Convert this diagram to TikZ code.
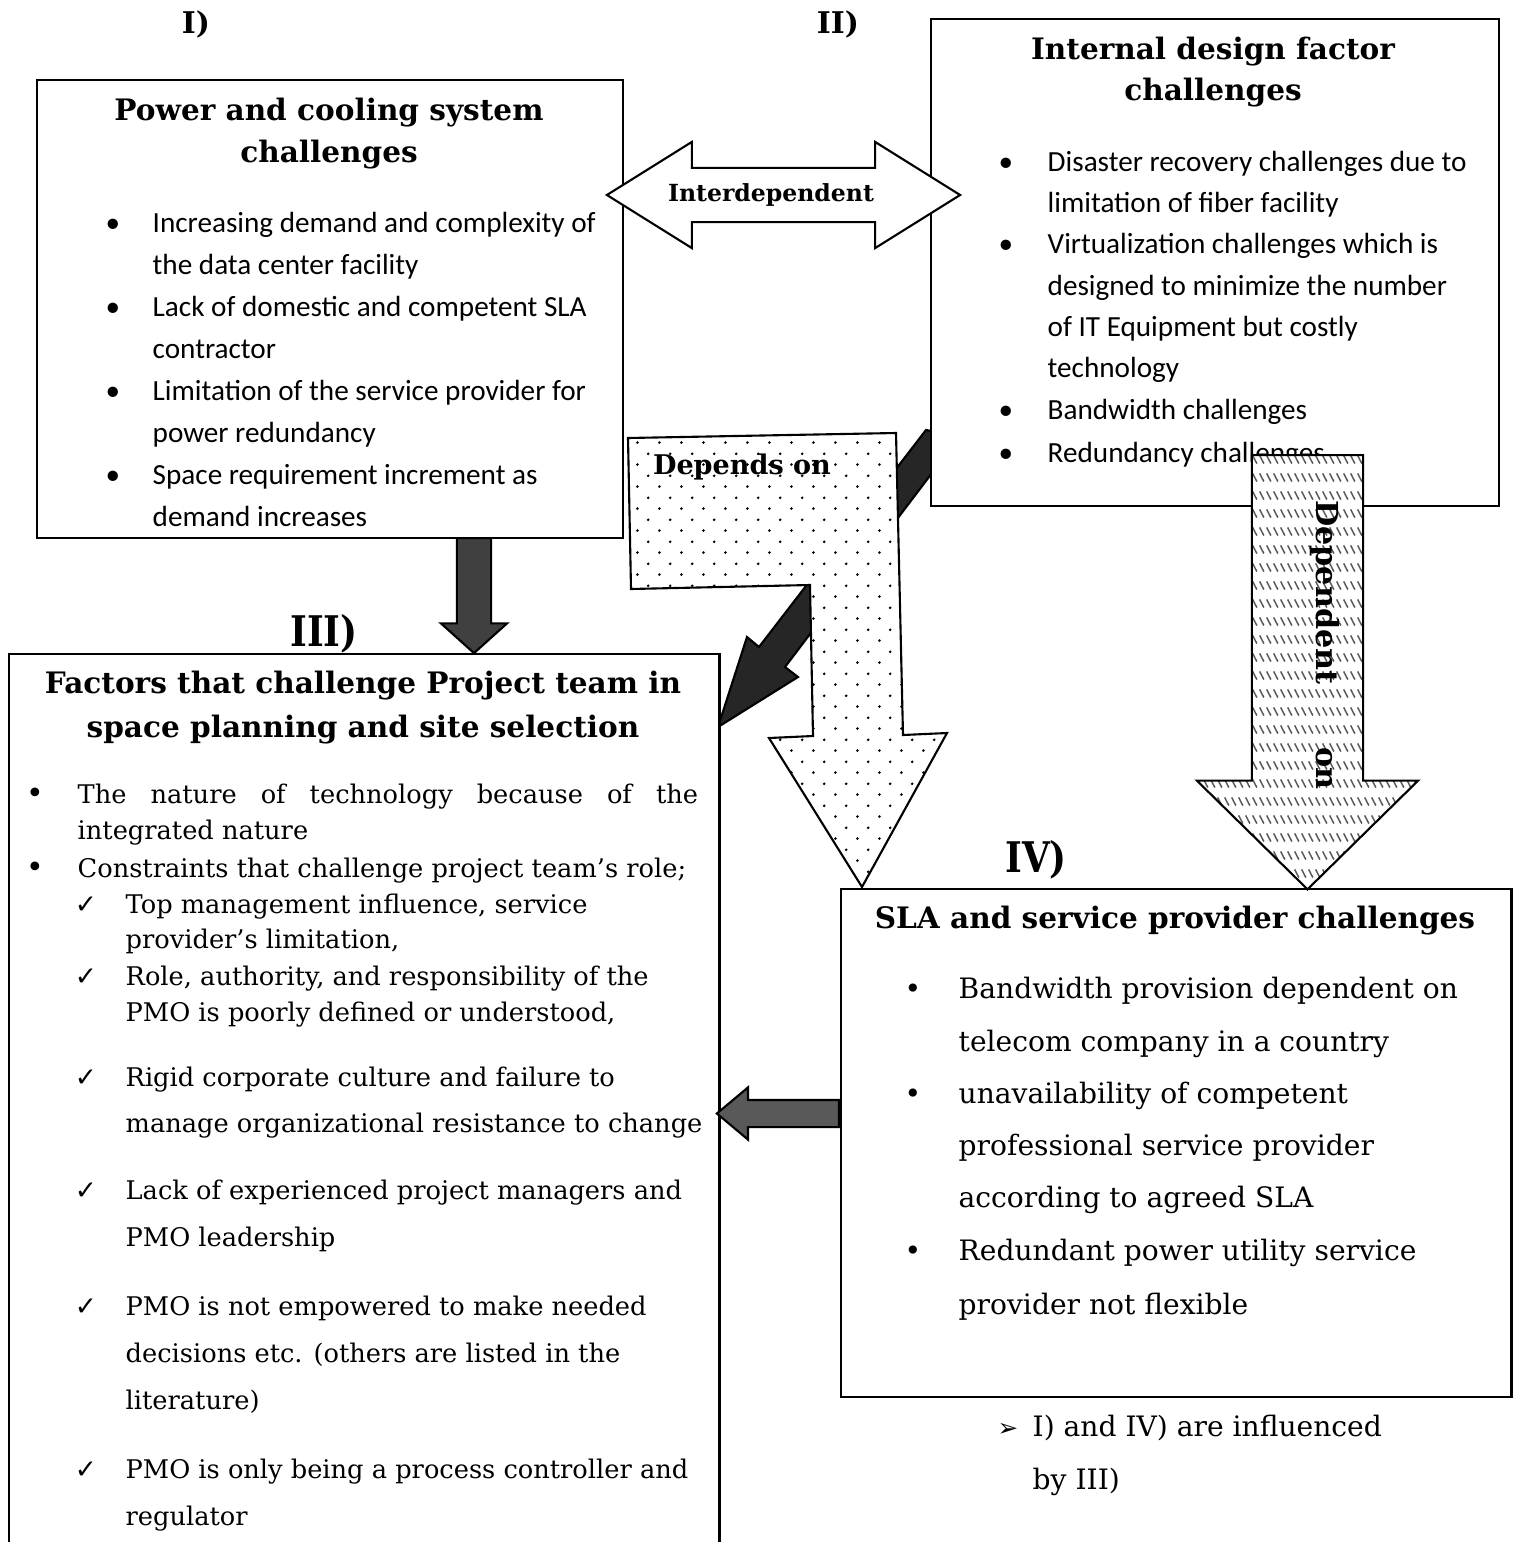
\documentclass[tikz,border=0pt]{standalone}
\usepackage{fontspec}
\setmainfont{DejaVu Serif}
\newfontfamily\calfont{Carlito}
\newfontfamily\dvsans{DejaVu Sans}
\newfontfamily\narrowfont[FakeStretch=0.85]{DejaVu Serif}
\usetikzlibrary{shapes.arrows,patterns.meta}
\tikzdeclarepattern{name=sparsedots, type=uncolored,
  bounding box={(0pt,0pt) and (6.2pt,6.2pt)}, tile size={(6.2pt,6.2pt)},
  code={\fill (1.55pt,1.55pt) circle (0.42pt); \fill (4.65pt,4.65pt) circle (0.42pt);}}
\tikzdeclarepattern{name=dashhatch, type=uncolored,
  bounding box={(0pt,0pt) and (2.1pt,5.2pt)}, tile size={(2.1pt,5.2pt)},
  code={\draw[line width=0.45pt] (0.2pt,4.3pt) -- (1.5pt,1.9pt);}}
\newcommand\ttlsize{\bfseries\fontsize{8.4}{10}\selectfont}
\newcommand\calsize{\calfont\fontsize{8.3}{10}\selectfont}
\newcommand\sersize{\fontsize{7.3}{9}\selectfont}
\newcommand\slasize{\fontsize{8}{10}\selectfont}
\newcommand\numsize{\narrowfont\bfseries\fontsize{12}{14}\selectfont}
\begin{document}
\begin{tikzpicture}[x=0.01cm, y=-0.01cm, line cap=round, >=stealth,
	box/.style={draw, line width=0.6pt, fill=white, inner sep=0pt, anchor=north west},
	ttl/.style={font=\ttlsize, anchor=base, inner sep=0pt},
	cal/.style={font=\calsize, anchor=base west, inner sep=0pt},
	ser/.style={font=\sersize, anchor=base west, inner sep=0pt},
	sla/.style={font=\slasize, anchor=base west, inner sep=0pt},
	lbl/.style={font=\bfseries\fontsize{#1}{#1}\selectfont, inner sep=0pt},
	blockarrow/.style={single arrow, draw, line width=0.6pt, inner xsep=0pt}]
			\clip (0,0) rectangle (1514,1542);
			\path 
			(926,430) coordinate (T1)
			(759,647) coordinate (N1)
			(747,637) coordinate (B1)
			(718,727) coordinate (TP)
			(798,677) coordinate (B2)
			(785,667) coordinate (N2)
			(960,436) coordinate (T2)
			(628,438) coordinate (D1)
			(896,433) coordinate (D2)
			(903,735) coordinate (D3)
			(947,733) coordinate (D4)
			(862,887) coordinate (D5)
			(769,738) coordinate (D6)
			(813,736) coordinate (D7)
			(810,585) coordinate (D8)
			(631,589) coordinate (D9)
			(474,537) coordinate (A1)
			(840,1113.5) coordinate (A4)
			(1307.5,454) coordinate (A2)
			;
			\draw[fill=black!85, line width=0.6pt] (T1)--(N1)--(B1)--(TP)--(B2)--(N2)--(T2)--cycle;
			\node[box, minimum width=5.86cm, minimum height=4.58cm] (I) at (36,79) {};
			\node[box, minimum width=5.68cm, minimum height=4.87cm] (II) at (930,18) {};
			\node[box, minimum width=7.10cm, minimum height=9.30cm] (III) at (8,653) {};
			\node[box, minimum width=6.70cm, minimum height=5.08cm] (IV) at (840,888) {};
			\node[lbl=8.5, anchor=base] (nI) at (196,33) {I)};
			\node[lbl=8.5, anchor=base] (nII) at (838,33) {II)};
			\node[font=\numsize, inner sep=0pt, anchor=base] (nIII) at (324,646) {III)};
			\node[font=\numsize, inner sep=0pt, anchor=base] (nIV) at (1036,872) {IV)};
			\node[ttl] (hI1) at (329,120) {Power and cooling system};
			\node[ttl] (hI2) at (329,162) {challenges};
			\node[ttl] (hII1) at (1213,59) {Internal design factor};
			\node[ttl] (hII2) at (1213,100) {challenges};
			\node[ttl] (hIII1) at (363,693) {Factors that challenge Project team in};
			\node[ttl] (hIII2) at (363,737) {space planning and site selection};
			\node[ttl] (hIV) at (1175,928) {SLA and service provider challenges};
			\foreach \y/\t in {232/Increasing demand and complexity of, 274/the data center facility, 316/Lack of domestic and competent SLA, 358/contractor, 400/Limitation of the service provider for, 442/power redundancy, 484/Space requirement increment as, 526/demand increases}
			\node[cal] (tI-\y) at (152,\y) {\t};
			\foreach \y in {232,316,400,484}
			\node[cal, anchor=base] (bI-\y) at (113,\y) {•};
			\foreach \y/\t in {171/Disaster recovery challenges due to, 212/limitation of fiber facility, 253/Virtualization challenges which is, 295/designed to minimize the number, 336/of IT Equipment but costly, 377/technology, 419/Bandwidth challenges, 462/Redundancy challenges}
			\node[cal] (tII-\y) at (1047,\y) {\t};
			\foreach \y in {171,253,419,462}
			\node[cal, anchor=base] (bII-\y) at (1006,\y) {•};
			\node[ser] (tIII-803) at (77,803) {\makebox[6.2cm][s]{The nature of technology because of the}};
			\foreach \y/\t in {839/integrated nature, 877/Constraints that challenge project team’s role;}
			\node[ser] (tIII-\y) at (77,\y) {\t};
			\foreach \y/\t in {913/{Top management influence, service}, 948/{provider’s limitation,}, 985/{Role, authority, and responsibility of the}, 1021/{PMO is poorly defined or understood,}, 1086/Rigid corporate culture and failure to, 1132/manage organizational resistance to change, 1199/Lack of experienced project managers and, 1246/PMO leadership, 1315/PMO is not empowered to make needed, 1362/decisions etc. (others are listed in the, 1409/literature), 1478/PMO is only being a process controller and, 1525/regulator}
			\node[ser] (tIII-\y) at (125,\y) {\t};
			\foreach \y in {803,877}
			\node[ser, anchor=base, font=\fontsize{8.5}{9}\selectfont] (bIII-\y) at (35,\y) {•};
			\foreach \y in {913,985,1086,1199,1315,1478}
			\node[ser, anchor=base, font=\dvsans\fontsize{7.5}{9}\selectfont] (cIII-\y) at (86,\y) {✓};
			\foreach \y/\t in {998/Bandwidth provision dependent on, 1051/telecom company in a country, 1103/unavailability of competent, 1155/professional service provider, 1207/according to agreed SLA, 1260/Redundant power utility service, 1314/provider not flexible}
			\node[sla] (tIV-\y) at (958,\y) {\t};
			\foreach \y in {998,1103,1260}
			\node[sla, anchor=base] (bIV-\y) at (913,\y) {•};
			\node[sla, anchor=base, font=\dvsans\fontsize{7}{9}\selectfont] (bN) at (1008,1436) {➢};
			\node[sla] (tN1) at (1032,1436) {I) and IV) are influenced};
			\node[sla] (tN2) at (1032,1489) {by III)};
			\node[double arrow, draw, line width=0.6pt, fill=white, minimum height=3.53cm, minimum width=1.04cm, inner xsep=0pt, inner ysep=0.26cm, double arrow head extend=0.26cm, double arrow tip angle=64] (aI-II) at (783.5,195) {};
			\node[lbl=6.7] (lI-II) at (771,195) {Interdependent};
			\draw[line width=0.6pt, preaction={fill=white}, pattern=sparsedots] (D1)--(D2)--(D3)--(D4)--(D5)--(D6)--(D7)--(D8)--(D9)--cycle;
			\node[lbl=7.7] (lD) at (742,467) {Depends on};
			\node[blockarrow, rotate=-90, anchor=tail, preaction={fill=white}, pattern=dashhatch, pattern color=black!65, minimum height=4.34cm, minimum width=2.19cm, inner ysep=0.545cm, single arrow head extend=0.55cm, single arrow tip angle=91] (aII-IV) at (A2) {};
			\node[lbl=8.6, rotate=-90] (lII-IV) at (1325,645) {Dependent\hspace{18pt}on};
			\node[blockarrow, rotate=-90, anchor=tail, fill=black!75, minimum height=1.15cm, minimum width=0.64cm, inner ysep=0.16cm, single arrow head extend=0.16cm, single arrow tip angle=96] (aI-III) at (A1) {};
			\node[blockarrow, rotate=180, anchor=tail, fill=black!65, minimum height=1.22cm, minimum width=0.50cm, inner ysep=0.125cm, single arrow head extend=0.125cm, single arrow tip angle=80] (aIV-III) at (A4) {};
\end{tikzpicture}
\end{document}
